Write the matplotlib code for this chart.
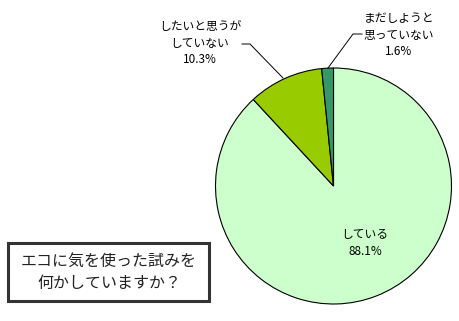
import matplotlib
matplotlib.use("Agg")
import matplotlib.pyplot as plt
from matplotlib.patches import Rectangle

plt.rcParams['font.family'] = ['Noto Sans CJK JP', 'DejaVu Sans']

categories = ["している", "したいと思うが\nしていない", "まだしようと\n思っていない"]
values = [88.1, 10.3, 1.6]
colors = ["#CCFFCC", "#99CC00", "#339966"]
title_text = "エコに気を使った試みを\n何かしていますか？"

W, H = 460, 321
fig = plt.figure(figsize=(W / 100, H / 100), dpi=100)
ax = fig.add_axes([0, 0, 1, 1])

def Y(y):
    return H - y

cx, cy, r = 333.5, 186, 118
ax.pie(values, colors=colors, startangle=90, counterclock=False,
       center=(cx, Y(cy)), radius=r,
       wedgeprops=dict(edgecolor="black", linewidth=0.8))

fs = 8.5
# labels
ax.text(365, Y(243), f"{categories[0]}\n{values[0]}%", ha="center", va="center",
        fontsize=fs, linespacing=1.35)
ax.text(200, Y(43), f"{categories[1]}\n{values[1]}%", ha="center", va="center",
        fontsize=fs, linespacing=1.35)
ax.text(399, Y(35), f"{categories[2]}\n{values[2]}%", ha="center", va="center",
        fontsize=fs, linespacing=1.35)

# leader lines
ax.plot([242, 250, 283], [Y(44), Y(44), Y(78)], color="black", lw=0.7)
ax.plot([362, 353, 328], [Y(34), Y(34), Y(68)], color="black", lw=0.7)

# question box
ax.add_patch(Rectangle((8.5, Y(301)), 201, 58, fill=False, edgecolor="#333333",
                       linewidth=2.2))
ax.text(109, Y(272.5), title_text, ha="center", va="center", fontsize=11.5,
        color="#222222", linespacing=1.35)

ax.set_xlim(0, W)
ax.set_ylim(0, H)
ax.set_aspect("auto")
ax.axis("off")
fig.savefig("out.png", dpi=100, facecolor="white")
